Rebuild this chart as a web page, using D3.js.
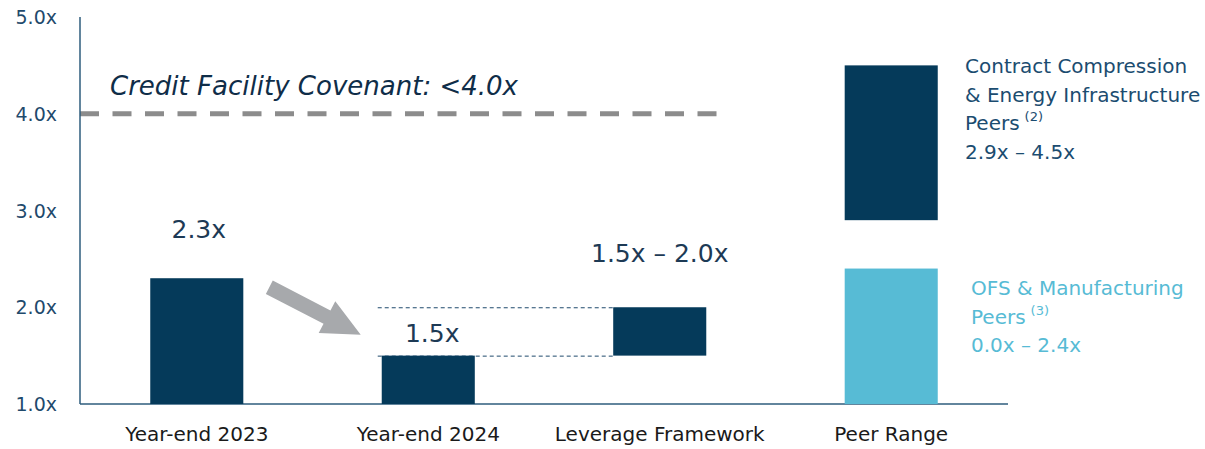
<!DOCTYPE html>
<html>
<head>
<meta charset="utf-8">
<script src="https://cdn.jsdelivr.net/npm/d3@7"></script>
<style>
  html, body { margin: 0; padding: 0; background: #ffffff; }
  svg { display: block; font-family: "DejaVu Sans", sans-serif; }
</style>
</head>
<body>
<svg id="chart" width="1205" height="449"></svg>
<script>
// ---------- data ----------
const categories = ["Year-end 2023", "Year-end 2024", "Leverage Framework", "Peer Range"];
const yearEndValues = [2.3, 1.5];                 // Year-end 2023, Year-end 2024
const yearEndLabels = ["2.3x", "1.5x"];
const frameworkRange = [1.5, 2.0];
const frameworkLabel = "1.5x \u2013 2.0x";
const compressionPeerRange = [2.9, 4.5];
const ofsPeerRange = [0.0, 2.4];
const covenantValue = 4.0;
const covenantLabel = "Credit Facility Covenant: <4.0x";
const yTicks = [1, 2, 3, 4, 5];
const yTickLabels = ["1.0x", "2.0x", "3.0x", "4.0x", "5.0x"];
const compressionLegend = ["Contract Compression", "& Energy Infrastructure", "Peers", "2.9x \u2013 4.5x"];
const compressionNote = "(2)";
const ofsLegend = ["OFS & Manufacturing", "Peers", "0.0x \u2013 2.4x"];
const ofsNote = "(3)";

// ---------- styles ----------
const NAVY = "#053a5a";
const LIGHT = "#57bbd5";
const AXIS = "#2e5d7d";
const TICK_TXT = "#1f4a6c";
const LEGEND_TXT = "#1b4c70";
const VALUE_TXT = "#1d3a55";

const svg = d3.select("#chart");

const x = d3.scaleBand().domain(categories).range([80, 1008]).paddingInner(0.598).paddingOuter(0.3035);
const y = d3.scaleLinear().domain([1, 5]).range([404, 17]).clamp(true);
const bw = x.bandwidth();

// covenant dashed line
svg.append("line")
  .attr("x1", 80).attr("x2", x("Leverage Framework") + bw + 14)
  .attr("y1", y(covenantValue)).attr("y2", y(covenantValue))
  .attr("stroke", "#8c8c8c").attr("stroke-width", 5)
  .attr("stroke-dasharray", "19,13.5");

svg.append("text")
  .attr("x", 110).attr("y", y(covenantValue) - 19)
  .attr("font-size", 27).attr("font-style", "italic")
  .attr("fill", "#0f2d48")
  .attr("textLength", 408).attr("lengthAdjust", "spacingAndGlyphs")
  .text(covenantLabel);

// dotted guide lines between 2024 and framework
[frameworkRange[0], frameworkRange[1]].forEach(v => {
  svg.append("line")
    .attr("x1", x("Year-end 2024") - 4).attr("x2", x("Leverage Framework"))
    .attr("y1", y(v) + 0.5).attr("y2", y(v) + 0.5)
    .attr("stroke", "#1f4a6c").attr("stroke-width", 1)
    .attr("stroke-dasharray", "4,3");
});

// axes
svg.append("line").attr("x1", 80).attr("x2", 80).attr("y1", y(5)).attr("y2", y(1))
  .attr("stroke", AXIS).attr("stroke-width", 1.5);
svg.append("line").attr("x1", 80).attr("x2", 1008).attr("y1", y(1)).attr("y2", y(1))
  .attr("stroke", AXIS).attr("stroke-width", 1.5);

svg.append("g").selectAll("text").data(yTicks).join("text")
  .attr("x", 57).attr("y", d => y(d))
  .attr("text-anchor", "end").attr("dominant-baseline", "central")
  .attr("font-size", 19).attr("fill", TICK_TXT)
  .text((d, i) => yTickLabels[i]);

// bars
const bars = [
  { cat: categories[0], lo: 1.0, hi: yearEndValues[0], color: NAVY },
  { cat: categories[1], lo: 1.0, hi: yearEndValues[1], color: NAVY },
  { cat: categories[2], lo: frameworkRange[0], hi: frameworkRange[1], color: NAVY },
  { cat: categories[3], lo: compressionPeerRange[0], hi: compressionPeerRange[1], color: NAVY },
  { cat: categories[3], lo: ofsPeerRange[0], hi: ofsPeerRange[1], color: LIGHT }
];
svg.append("g").selectAll("rect").data(bars).join("rect")
  .attr("x", d => x(d.cat)).attr("width", bw)
  .attr("y", d => y(d.hi)).attr("height", d => y(d.lo) - y(d.hi))
  .attr("fill", d => d.color);

// category labels
svg.append("g").selectAll("text").data(categories).join("text")
  .attr("x", d => x(d) + bw / 2).attr("y", 441)
  .attr("text-anchor", "middle").attr("font-size", 20).attr("fill", "#1a1a1a")
  .text(d => d);

// value labels
svg.append("text").attr("x", x(categories[0]) + bw / 2 + 2).attr("y", y(yearEndValues[0]) - 40)
  .attr("text-anchor", "middle").attr("font-size", 25).attr("fill", VALUE_TXT).text(yearEndLabels[0]);
svg.append("text").attr("x", x(categories[1]) + bw / 2 + 4).attr("y", y(yearEndValues[1]) - 14)
  .attr("text-anchor", "middle").attr("font-size", 25).attr("fill", VALUE_TXT).text(yearEndLabels[1]);
svg.append("text").attr("x", x(categories[2]) + bw / 2).attr("y", y(frameworkRange[1]) - 45)
  .attr("text-anchor", "middle").attr("font-size", 25).attr("fill", VALUE_TXT).text(frameworkLabel);

// arrow from 2023 towards 2024
(function () {
  const x0 = x(categories[0]) + bw + 26, y0 = y(yearEndValues[0]) + 9;
  const x1 = x(categories[1]) - 21, y1 = y(yearEndValues[1]) - 21;
  const dx = x1 - x0, dy = y1 - y0, len = Math.hypot(dx, dy);
  const ux = dx / len, uy = dy / len, px = -uy, py = ux;
  const headLen = 38, headHalf = 18, shaftHalf = 7.5;
  const bx = x1 - ux * headLen, by = y1 - uy * headLen;
  const pts = [
    [x0 + px * shaftHalf, y0 + py * shaftHalf],
    [bx + px * shaftHalf, by + py * shaftHalf],
    [bx + px * headHalf, by + py * headHalf],
    [x1, y1],
    [bx - px * headHalf, by - py * headHalf],
    [bx - px * shaftHalf, by - py * shaftHalf],
    [x0 - px * shaftHalf, y0 - py * shaftHalf]
  ];
  svg.append("path").attr("d", d3.line()(pts) + "Z").attr("fill", "#a7a9ac");
})();

// legends
function legend(lines, note, x0, yFirst, color, maxW) {
  const g = svg.append("g");
  lines.forEach((t, i) => {
    const txt = g.append("text").attr("x", x0).attr("y", yFirst + i * 28.5)
      .attr("font-size", 20).attr("fill", color);
    const main = txt.append("tspan").text(t);
    if (t === "Peers") {
      txt.append("tspan").attr("dx", 5).attr("dy", -9).attr("font-size", 13).text(note);
    } else {
      const w = txt.node().getComputedTextLength();
      if (w > maxW) txt.attr("textLength", maxW).attr("lengthAdjust", "spacingAndGlyphs");
    }
  });
}
legend(compressionLegend, compressionNote, 965, 73, LEGEND_TXT, 236);
legend(ofsLegend, ofsNote, 971, 295, LIGHT, 230);
</script>
</body>
</html>
